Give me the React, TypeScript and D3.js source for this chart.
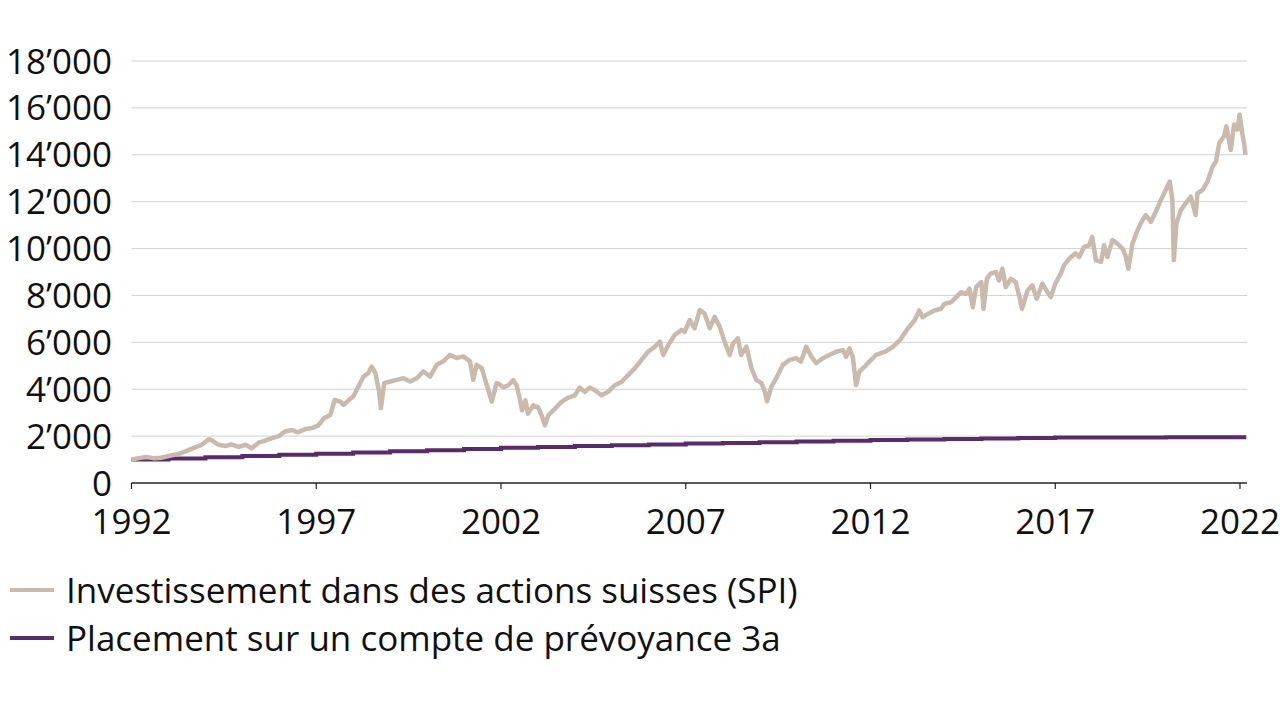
import React from 'react';
import * as d3 from 'd3';

const yTicks = [0, 2000, 4000, 6000, 8000, 10000, 12000, 14000, 16000, 18000];
const xTicks = [1992, 1997, 2002, 2007, 2012, 2017, 2022];

const legendLabels = [
  'Investissement dans des actions suisses (SPI)',
  'Placement sur un compte de prévoyance 3a',
];

// SPI investment, [year, CHF]
const spiSeries: [number, number][] = [
  [1992.0, 1000], [1992.2, 1060], [1992.4, 1110], [1992.6, 1060], [1992.8, 1080],
  [1993.0, 1150], [1993.3, 1250], [1993.5, 1370], [1993.7, 1510], [1993.9, 1630],
  [1994.1, 1870], [1994.2, 1800], [1994.35, 1630], [1994.55, 1580], [1994.7, 1650],
  [1994.9, 1540], [1995.1, 1630], [1995.25, 1480], [1995.45, 1730], [1995.6, 1800],
  [1995.8, 1910], [1996.0, 2010], [1996.15, 2200], [1996.35, 2260], [1996.5, 2160],
  [1996.7, 2300], [1996.9, 2350], [1997.05, 2450], [1997.2, 2750], [1997.38, 2900],
  [1997.5, 3540], [1997.65, 3470], [1997.74, 3330], [1997.88, 3540], [1998.0, 3690],
  [1998.14, 4110], [1998.28, 4540], [1998.41, 4690], [1998.5, 4970], [1998.6, 4690],
  [1998.7, 3900], [1998.75, 3190], [1998.84, 4260], [1999.0, 4330], [1999.18, 4400],
  [1999.36, 4470], [1999.54, 4330], [1999.72, 4470], [1999.9, 4760], [2000.08, 4540],
  [2000.26, 5040], [2000.44, 5190], [2000.62, 5470], [2000.8, 5330], [2000.98, 5400],
  [2001.16, 5190], [2001.25, 4400], [2001.34, 5040], [2001.48, 4900], [2001.6, 4260],
  [2001.75, 3470], [2001.88, 4260], [2001.93, 4240], [2002.06, 4080], [2002.2, 4170],
  [2002.33, 4390], [2002.42, 4170], [2002.5, 3670], [2002.57, 3100], [2002.66, 3530],
  [2002.73, 2960], [2002.87, 3310], [2003.0, 3240], [2003.1, 2890], [2003.19, 2460],
  [2003.28, 2890], [2003.46, 3170], [2003.64, 3460], [2003.82, 3640], [2004.0, 3740],
  [2004.13, 4070], [2004.27, 3890], [2004.4, 4070], [2004.54, 3960], [2004.72, 3740],
  [2004.9, 3890], [2005.08, 4170], [2005.26, 4310], [2005.44, 4600], [2005.62, 4890],
  [2005.8, 5240], [2005.98, 5600], [2006.16, 5810], [2006.3, 6030], [2006.39, 5460],
  [2006.53, 5890], [2006.7, 6310], [2006.88, 6530], [2006.97, 6450], [2007.11, 6950],
  [2007.24, 6600], [2007.38, 7380], [2007.51, 7230], [2007.65, 6600], [2007.78, 7090],
  [2007.92, 6670], [2008.05, 6030], [2008.19, 5460], [2008.28, 5960], [2008.41, 6170],
  [2008.5, 5460], [2008.64, 5820], [2008.78, 4890], [2008.91, 4400], [2009.05, 4260],
  [2009.14, 3900], [2009.2, 3480], [2009.32, 4110], [2009.45, 4470], [2009.63, 5040],
  [2009.81, 5250], [2009.99, 5320], [2010.12, 5180], [2010.26, 5820], [2010.4, 5390],
  [2010.53, 5110], [2010.71, 5320], [2010.89, 5460], [2011.07, 5600], [2011.25, 5670],
  [2011.34, 5390], [2011.43, 5740], [2011.52, 5390], [2011.61, 4180], [2011.7, 4750],
  [2011.84, 4960], [2011.97, 5180], [2012.15, 5460], [2012.4, 5600], [2012.6, 5800],
  [2012.8, 6100], [2013.0, 6570], [2013.19, 6930], [2013.32, 7360], [2013.41, 7070],
  [2013.55, 7210], [2013.73, 7360], [2013.91, 7430], [2014.0, 7640], [2014.18, 7710],
  [2014.32, 7930], [2014.45, 8140], [2014.59, 8070], [2014.68, 8290], [2014.77, 7500],
  [2014.86, 8360], [2015.0, 8570], [2015.06, 7430], [2015.15, 8710], [2015.25, 8930],
  [2015.4, 9000], [2015.48, 8640], [2015.57, 9140], [2015.66, 8360], [2015.8, 8710],
  [2015.93, 8570], [2016.02, 8000], [2016.1, 7430], [2016.25, 8210], [2016.38, 8430],
  [2016.5, 7860], [2016.65, 8500], [2016.79, 8140], [2016.88, 7930], [2017.0, 8500],
  [2017.15, 8930], [2017.24, 9290], [2017.4, 9600], [2017.55, 9800], [2017.65, 9640],
  [2017.78, 10070], [2017.92, 10140], [2018.0, 10500], [2018.1, 9500], [2018.24, 9430],
  [2018.32, 10140], [2018.41, 9640], [2018.55, 10360], [2018.68, 10210], [2018.82, 10000],
  [2018.9, 9710], [2018.98, 9140], [2019.09, 10210], [2019.23, 10790], [2019.36, 11210],
  [2019.45, 11430], [2019.59, 11140], [2019.72, 11570], [2019.86, 12070], [2019.99, 12500],
  [2020.1, 12860], [2020.17, 12070], [2020.21, 9500], [2020.28, 11070], [2020.4, 11640],
  [2020.53, 11930], [2020.67, 12210], [2020.8, 11430], [2020.85, 12360], [2020.99, 12500],
  [2021.12, 12860], [2021.26, 13500], [2021.35, 13710], [2021.44, 14500], [2021.57, 14790],
  [2021.63, 15210], [2021.75, 14210], [2021.84, 15290], [2021.93, 15070], [2021.99, 15710],
  [2022.06, 14930], [2022.11, 14500], [2022.15, 14000],
];

// pillar 3a account, one value per year (steps at year start)
const pillarYears = [
  1992, 1993, 1994, 1995, 1996, 1997, 1998, 1999, 2000, 2001, 2002, 2003, 2004, 2005, 2006,
  2007, 2008, 2009, 2010, 2011, 2012, 2013, 2014, 2015, 2016, 2017, 2018, 2019, 2020, 2021,
  2022, 2022.17,
];
const pillarValues = [
  1000, 1050, 1100, 1150, 1200, 1250, 1300, 1350, 1400, 1450, 1500, 1540, 1575, 1610, 1645,
  1680, 1710, 1740, 1770, 1800, 1830, 1855, 1880, 1900, 1920, 1940, 1945, 1945, 1950, 1950,
  1950, 1950,
];

const spiColor = '#c9baab';
const pillarColor = '#5b2a6e';
const fontFamily = '"Open Sans", "Noto Sans", sans-serif';

const W = 1280;
const H = 719;

const fmt = d3.formatLocale({
  decimal: '.',
  thousands: '\u2019',
  grouping: [3],
  currency: ['', ''],
}).format(',');

export default function App() {
  const x = d3.scaleLinear().domain([1992, 2022.19]).range([131.5, 1247]);
  const y = d3.scaleLinear().domain([0, 18000]).range([483, 61]);

  const spiLine = d3.line<[number, number]>()
    .x(d => x(d[0]))
    .y(d => y(d[1]));

  const pillarLine = d3.line<number>()
    .x((_, i) => x(pillarYears[i]))
    .y(d => y(d))
    .curve(d3.curveStepAfter);

  const [x0, x1] = x.range();

  return (
    <div style={{ position: 'fixed', left: 0, top: 0, width: W, height: H, background: '#fff' }}>
      <svg width={W} height={H} style={{ display: 'block' }}>
        {/* grid */}
        {yTicks.filter(t => t > 0).map(t => (
          <line key={t} x1={x0} x2={x1} y1={y(t)} y2={y(t)} stroke="#d2d2d2" strokeWidth={1} />
        ))}
        {yTicks.map(t => (
          <text key={'l' + t} x={112} y={y(t)} dy="0.36em" textAnchor="end"
            fontFamily={fontFamily} fontSize={35} fill="#111">
            {fmt(t)}
          </text>
        ))}

        {/* lines */}
        <path d={pillarLine(pillarValues) || ''} fill="none" stroke={pillarColor} strokeWidth={4} />
        <path d={spiLine(spiSeries) || ''} fill="none" stroke={spiColor} strokeWidth={4.5}
          strokeLinejoin="round" />

        {/* x axis */}
        <line x1={x0} x2={x1} y1={y(0)} y2={y(0)} stroke="#222" strokeWidth={1.3} />
        {xTicks.map(t => (
          <g key={t} transform={`translate(${x(t)},0)`}>
            <line y1={y(0)} y2={y(0) + 6} stroke="#222" strokeWidth={1.2} />
            <text y={534} textAnchor="middle" fontFamily={fontFamily} fontSize={35} fill="#111">
              {t}
            </text>
          </g>
        ))}

        {/* legend */}
        {legendLabels.map((label, i) => (
          <g key={label} transform={`translate(0,${590 + i * 48})`}>
            <line x1={10} x2={54} y1={0} y2={0} stroke={i === 0 ? spiColor : pillarColor} strokeWidth={4} />
            <text x={66} y={0} dy="0.36em" fontFamily={fontFamily} fontSize={35} fill="#111">
              {label}
            </text>
          </g>
        ))}
      </svg>
    </div>
  );
}
